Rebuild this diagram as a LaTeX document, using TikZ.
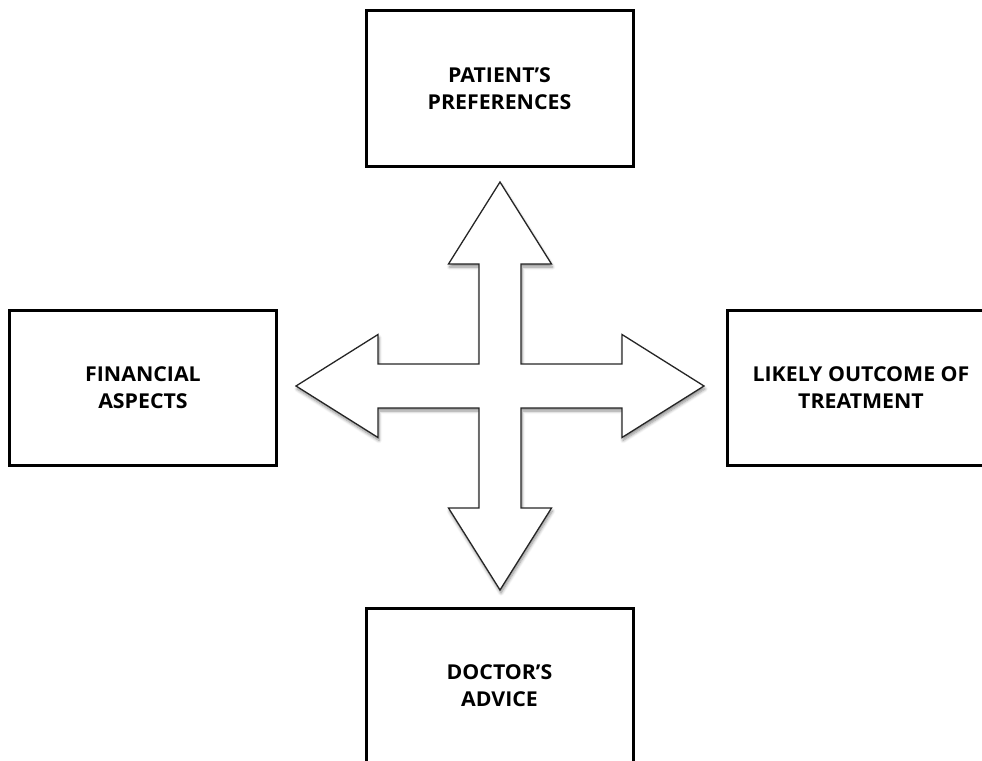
\documentclass[tikz,border=0pt]{standalone}
\usepackage{fontspec}
\setmainfont{Open Sans}[BoldFeatures={FakeStretch=1.04}]
\usetikzlibrary{shadows.blur}
\begin{document}
\begin{tikzpicture}[x=1pt,y=-1pt,
  factor/.style={draw=black, line width=3pt, fill=white,
    minimum width=267pt, minimum height=155pt, inner sep=0pt,
    align=center, font=\bfseries\fontsize{20.5}{26.5}\selectfont},
  crossarrow/.style={draw=black!85, line width=1.3pt, fill=white, line join=miter,
    blur shadow={shadow xshift=1pt, shadow yshift=-3pt, shadow blur steps=6,
      shadow blur radius=3pt, shadow opacity=45}}]
\useasboundingbox (0,0) rectangle (982,760);
\clip (0,0) rectangle (982,760);

% four factors around the decision
\node[factor] (pref) at (499.5,88.5) {PATIENT'S\\PREFERENCES};
\node[factor] (fin)  at (143,387.5) {FINANCIAL\\ASPECTS};
\node[factor] (out)  at (861,387.5) {LIKELY OUTCOME OF\\TREATMENT};
\node[factor] (doc)  at (499.5,685.5) {DOCTOR'S\\ADVICE};

% four-way arrow in the middle
\coordinate (c) at (500,386);
\draw[crossarrow]
  ([shift={(0,-204)}]c) -- ([shift={(51.5,-122)}]c) -- ([shift={(21,-122)}]c)
  -- ([shift={(21,-22)}]c) -- ([shift={(122,-22)}]c) -- ([shift={(122,-51.5)}]c)
  -- ([shift={(204,0)}]c) -- ([shift={(122,51.5)}]c) -- ([shift={(122,22)}]c)
  -- ([shift={(21,22)}]c) -- ([shift={(21,122)}]c) -- ([shift={(51.5,122)}]c)
  -- ([shift={(0,204)}]c) -- ([shift={(-51.5,122)}]c) -- ([shift={(-21,122)}]c)
  -- ([shift={(-21,22)}]c) -- ([shift={(-122,22)}]c) -- ([shift={(-122,51.5)}]c)
  -- ([shift={(-204,0)}]c) -- ([shift={(-122,-51.5)}]c) -- ([shift={(-122,-22)}]c)
  -- ([shift={(-21,-22)}]c) -- ([shift={(-21,-122)}]c) -- ([shift={(-51.5,-122)}]c)
  -- cycle;
\end{tikzpicture}
\end{document}
